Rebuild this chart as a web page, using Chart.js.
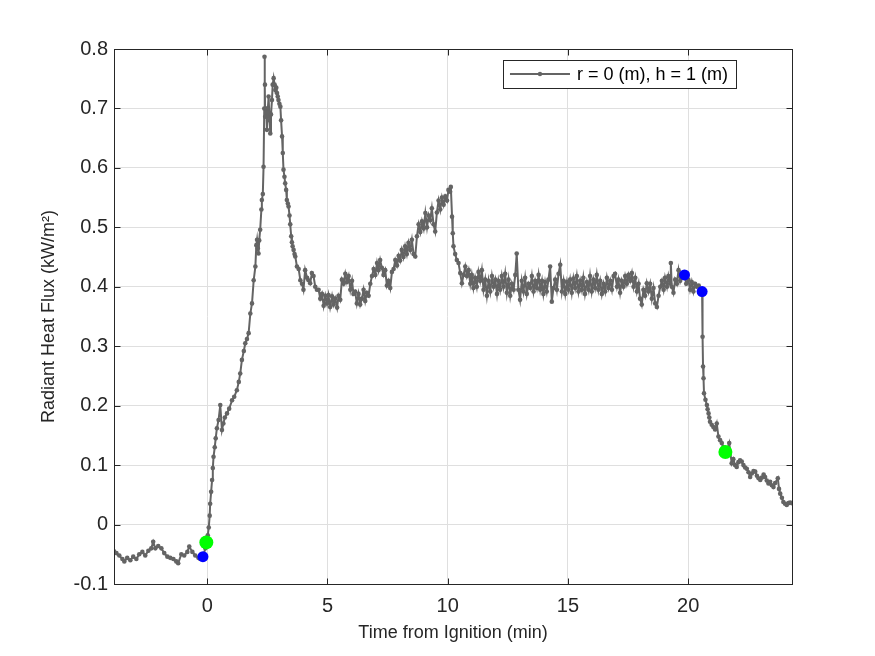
<!DOCTYPE html>
<html><head><meta charset="utf-8">
<script src="https://cdn.jsdelivr.net/npm/chart.js@4.4.1/dist/chart.umd.min.js"></script>
<style>html,body{margin:0;padding:0;background:#fff;} #wrap{width:875px;height:656px;position:relative;}</style>
</head><body><div id="wrap"><canvas id="c" width="875" height="656"></canvas></div>
<script>
// ---- data (time from ignition in min, radiant heat flux in kW/m^2) ----
const times = [
-3.88,-3.78,-3.66,-3.53,-3.45,-3.33,-3.20,-3.08,-2.95,-2.83,
-2.70,-2.58,-2.45,-2.33,-2.25,-2.16,-2.04,-1.91,-1.79,-1.66,
-1.54,-1.41,-1.29,-1.21,-1.08,-0.96,-0.83,-0.75,-0.62,-0.50,
-0.37,-0.29,-0.18,-0.08,-0.04,0.02,0.06,0.10,0.12,0.16,
0.20,0.23,0.26,0.31,0.35,0.40,0.47,0.54,0.61,0.67,
0.73,0.82,0.91,1.03,1.12,1.23,1.31,1.37,1.44,1.52,
1.58,1.65,1.72,1.79,1.86,1.93,2.00,2.04,2.07,2.10,
2.13,2.16,2.20,2.25,2.27,2.31,2.34,2.37,2.38,2.40,
2.41,2.45,2.48,2.52,2.55,2.59,2.62,2.65,2.69,2.72,
2.76,2.80,2.83,2.87,2.90,2.93,2.96,3.00,3.04,3.07,
3.11,3.14,3.17,3.21,3.24,3.28,3.31,3.35,3.38,3.42,
3.45,3.49,3.52,3.55,3.59,3.63,3.66,3.73,3.80,3.87,
3.94,4.00,4.07,4.15,4.21,4.28,4.35,4.42,4.49,4.56,
4.63,4.70,4.77,4.84,4.91,4.98,5.04,5.11,5.19,5.25,
5.32,5.40,5.46,5.53,5.60,5.67,5.74,5.81,5.88,5.95,
6.02,6.08,6.15,6.22,6.29,6.36,6.43,6.50,6.57,6.64,
6.71,6.78,6.85,6.92,6.99,7.06,7.12,7.19,7.26,7.33,
7.40,7.47,7.54,7.61,7.68,7.75,7.82,7.89,7.96,8.02,
8.09,8.16,8.23,8.30,8.37,8.44,8.51,8.58,8.65,8.72,
8.79,8.86,8.93,9.00,9.07,9.14,9.21,9.27,9.34,9.41,
9.48,9.55,9.62,9.69,9.76,9.83,9.90,9.97,10.03,10.10,
10.13,10.18,10.21,10.24,10.31,10.38,10.45,10.52,10.59,10.66,
10.73,10.80,10.87,10.94,11.00,11.07,11.14,11.21,11.28,11.35,
11.42,11.49,11.56,11.63,11.70,11.77,11.84,11.91,11.98,12.05,
12.11,12.18,12.25,12.32,12.39,12.46,12.53,12.60,12.67,12.74,
12.81,12.87,12.94,13.01,13.08,13.15,13.22,13.29,13.36,13.43,
13.50,13.57,13.64,13.71,13.78,13.85,13.92,13.98,14.05,14.12,
14.19,14.26,14.33,14.40,14.47,14.54,14.61,14.68,14.75,14.82,
14.89,14.96,15.02,15.09,15.16,15.23,15.30,15.37,15.44,15.51,
15.58,15.64,15.71,15.79,15.86,15.92,15.99,16.06,16.13,16.20,
16.27,16.34,16.41,16.48,16.55,16.62,16.69,16.76,16.83,16.90,
16.96,17.04,17.10,17.17,17.24,17.31,17.38,17.45,17.52,17.59,
17.66,17.73,17.80,17.87,17.94,18.00,18.07,18.14,18.21,18.28,
18.35,18.42,18.49,18.56,18.63,18.70,18.77,18.84,18.91,18.98,
19.04,19.12,19.18,19.25,19.28,19.32,19.39,19.46,19.53,19.60,
19.67,19.75,19.85,19.92,20.01,20.08,20.15,20.22,20.29,20.36,
20.44,20.50,20.58,20.60,20.62,20.64,20.66,20.72,20.78,20.81,
20.85,20.88,20.91,20.98,21.05,21.12,21.19,21.26,21.33,21.40,
21.47,21.55,21.62,21.71,21.81,21.88,21.95,22.02,22.09,22.16,
22.23,22.30,22.37,22.44,22.51,22.58,22.65,22.72,22.79,22.86,
22.93,23.00,23.07,23.14,23.20,23.27,23.34,23.41,23.48,23.55,
23.62,23.73,23.78,23.83,23.90,23.96,24.03,24.10,24.17,24.24,24.32
];
const flux = [
-0.045,-0.048,-0.052,-0.058,-0.062,-0.056,-0.060,-0.054,-0.058,-0.050,
-0.046,-0.052,-0.044,-0.040,-0.029,-0.040,-0.036,-0.040,-0.048,-0.054,
-0.056,-0.058,-0.062,-0.065,-0.050,-0.052,-0.046,-0.037,-0.046,-0.052,
-0.056,-0.058,-0.054,-0.040,-0.030,-0.018,-0.005,0.015,0.035,0.055,
0.075,0.095,0.114,0.130,0.145,0.162,0.176,0.201,0.159,0.170,
0.180,0.187,0.195,0.209,0.215,0.226,0.240,0.254,0.277,0.292,
0.305,0.312,0.322,0.355,0.372,0.411,0.434,0.470,0.479,0.465,
0.456,0.478,0.496,0.530,0.546,0.556,0.602,0.700,0.787,0.740,
0.686,0.700,0.664,0.700,0.720,0.680,0.658,0.690,0.714,0.740,
0.751,0.740,0.731,0.735,0.726,0.720,0.714,0.708,0.703,0.680,
0.653,0.625,0.597,0.585,0.574,0.563,0.546,0.540,0.535,0.520,
0.505,0.485,0.475,0.468,0.462,0.455,0.451,0.434,0.430,0.411,
0.405,0.395,0.428,0.415,0.411,0.406,0.423,0.418,0.400,0.395,
0.395,0.380,0.388,0.368,0.385,0.372,0.386,0.366,0.384,0.370,
0.380,0.365,0.385,0.378,0.412,0.405,0.422,0.408,0.418,0.395,
0.410,0.388,0.392,0.372,0.388,0.370,0.380,0.395,0.376,0.390,
0.385,0.405,0.418,0.430,0.420,0.440,0.428,0.445,0.432,0.420,
0.428,0.402,0.410,0.398,0.425,0.430,0.445,0.436,0.452,0.444,
0.462,0.450,0.468,0.455,0.474,0.462,0.479,0.455,0.451,0.485,
0.505,0.492,0.510,0.498,0.524,0.500,0.520,0.512,0.532,0.505,
0.493,0.525,0.545,0.530,0.550,0.538,0.552,0.545,0.563,0.560,
0.568,0.518,0.490,0.468,0.455,0.445,0.440,0.423,0.406,0.420,
0.434,0.418,0.428,0.405,0.420,0.398,0.415,0.400,0.425,0.410,
0.428,0.395,0.412,0.385,0.410,0.392,0.418,0.400,0.412,0.388,
0.410,0.395,0.418,0.400,0.422,0.390,0.412,0.385,0.405,0.395,
0.420,0.456,0.395,0.378,0.410,0.392,0.415,0.388,0.405,0.398,
0.418,0.392,0.410,0.398,0.420,0.395,0.410,0.388,0.408,0.392,
0.412,0.434,0.375,0.398,0.412,0.395,0.422,0.437,0.392,0.410,
0.388,0.408,0.395,0.412,0.390,0.414,0.398,0.418,0.392,0.410,
0.395,0.415,0.388,0.408,0.395,0.418,0.392,0.412,0.398,0.420,
0.395,0.410,0.388,0.405,0.392,0.415,0.398,0.410,0.395,0.418,
0.422,0.400,0.412,0.390,0.410,0.400,0.418,0.405,0.420,0.410,
0.423,0.400,0.415,0.392,0.405,0.380,0.370,0.395,0.385,0.406,
0.392,0.405,0.380,0.398,0.372,0.366,0.385,0.400,0.410,0.395,
0.415,0.400,0.418,0.405,0.440,0.400,0.390,0.412,0.405,0.428,
0.410,0.422,0.420,0.405,0.412,0.395,0.408,0.392,0.405,0.400,
0.402,0.396,0.392,0.316,0.266,0.246,0.221,0.210,0.201,0.194,
0.187,0.180,0.173,0.168,0.164,0.160,0.170,0.148,0.142,0.137,
0.130,0.122,0.125,0.137,0.103,0.110,0.100,0.097,0.105,0.108,
0.106,0.100,0.096,0.094,0.088,0.080,0.086,0.090,0.089,0.082,
0.078,0.075,0.079,0.084,0.080,0.074,0.069,0.072,0.066,0.063,
0.070,0.078,0.060,0.052,0.045,0.038,0.035,0.033,0.036,0.037,0.036
];
const blueTimes = [-0.18, 19.85, 20.58];
const blueFlux  = [-0.054, 0.420, 0.392];
const greenTimes = [-0.04, 21.55];
const greenFlux  = [-0.030, 0.122];
const xTicks = [0, 5, 10, 15, 20];
const yTicks = [-0.1, 0, 0.1, 0.2, 0.3, 0.4, 0.5, 0.6, 0.7, 0.8];
const xRange = [-3.88, 24.32];
const yRange = [-0.1, 0.8];
const seriesLabel = 'r = 0 (m), h = 1 (m)';
const xTitle = 'Time from Ignition (min)';
const yTitle = 'Radiant Heat Flux (kW/m\u00B2)';

// ---- styling ----
const FONT = "'Liberation Sans', Arial, Helvetica, sans-serif";
const AX = '#262626';
const LINE = '#646464';
const GRID = '#dfdfdf';

const toXY = (xs, ys) => xs.map((t, i) => ({x: t, y: ys[i]}));

const boxPlugin = {
  id: 'matlabBox',
  afterDatasetsDraw(chart) {
    const {ctx, chartArea: a, scales: {x, y}} = chart;
    ctx.save();
    ctx.strokeStyle = AX; ctx.lineWidth = 1;
    ctx.strokeRect(a.left + 0.5, a.top + 0.5, a.right - a.left, a.bottom - a.top);
    const L = 6;
    ctx.beginPath();
    xTicks.forEach(v => {
      const px = Math.round(x.getPixelForValue(v)) + 0.5;
      ctx.moveTo(px, a.bottom + 0.5); ctx.lineTo(px, a.bottom + 0.5 - L);
      ctx.moveTo(px, a.top + 0.5); ctx.lineTo(px, a.top + 0.5 + L);
    });
    yTicks.forEach(v => {
      const py = Math.round(y.getPixelForValue(v)) + 0.5;
      ctx.moveTo(a.left + 0.5, py); ctx.lineTo(a.left + 0.5 + L, py);
      ctx.moveTo(a.right + 0.5, py); ctx.lineTo(a.right + 0.5 - L, py);
    });
    ctx.stroke();
    ctx.restore();
  },
  afterDraw(chart) {
    const {ctx, chartArea: a} = chart;
    ctx.save();
    ctx.font = '18px ' + FONT;
    const tw = ctx.measureText(seriesLabel).width;
    const right = a.right - 56, top = a.top + 11, h = 28;
    const w = tw + 82;
    const left = right - w;
    ctx.fillStyle = '#fff';
    ctx.fillRect(left, top, w, h);
    ctx.strokeStyle = AX; ctx.lineWidth = 1;
    ctx.strokeRect(Math.round(left) + 0.5, top + 0.5, Math.round(w), h);
    const cy = top + 14;
    ctx.strokeStyle = LINE; ctx.lineWidth = 2;
    ctx.beginPath(); ctx.moveTo(left + 7, cy); ctx.lineTo(left + 67, cy); ctx.stroke();
    ctx.fillStyle = LINE;
    ctx.beginPath(); ctx.arc(left + 37, cy, 2.2, 0, Math.PI * 2); ctx.fill();
    ctx.fillStyle = '#000';
    ctx.textBaseline = 'middle';
    ctx.textAlign = 'left';
    ctx.fillText(seriesLabel, left + 74, cy + 1);
    ctx.restore();
  }
};

new Chart(document.getElementById('c'), {
  type: 'line',
  data: {
    datasets: [
      { label: 'blue', data: toXY(blueTimes, blueFlux), showLine: false,
        pointRadius: 5.5, pointBackgroundColor: '#0000ff', pointBorderWidth: 0, order: 0 },
      { label: 'green', data: toXY(greenTimes, greenFlux), showLine: false,
        pointRadius: 7, pointBackgroundColor: '#00ff00', pointBorderWidth: 0, order: 0 },
      { label: seriesLabel, data: toXY(times, flux), borderColor: LINE, borderWidth: 2,
        pointRadius: 2.3, pointBackgroundColor: LINE, pointBorderWidth: 0, tension: 0, order: 1 }
    ]
  },
  options: {
    responsive: false,
    animation: false,
    devicePixelRatio: 1,
    layout: { padding: { left: 0, top: 49, right: 83, bottom: 0 } },
    plugins: { legend: { display: false }, tooltip: { enabled: false } },
    scales: {
      x: {
        type: 'linear', min: xRange[0], max: xRange[1],
        afterBuildTicks: s => { s.ticks = xTicks.map(v => ({value: v})); },
        afterFit: s => { s.height = 72; },
        grid: { color: GRID, drawTicks: false },
        border: { display: false },
        ticks: { color: AX, font: { family: FONT, size: 20 }, padding: 10,
                 callback: v => String(v), maxRotation: 0 },
        title: { display: true, text: xTitle, color: AX,
                 font: { family: FONT, size: 18 }, padding: { top: 0, bottom: 12 } }
      },
      y: {
        type: 'linear', min: yRange[0], max: yRange[1],
        afterBuildTicks: s => { s.ticks = yTicks.map(v => ({value: v})); },
        afterFit: s => { s.width = 114; },
        grid: { color: GRID, drawTicks: false },
        border: { display: false },
        ticks: { color: AX, font: { family: FONT, size: 20 }, padding: 6,
                 callback: v => (Math.abs(v) < 1e-9 ? '0' : (Math.round(v * 10) / 10).toString()) },
        title: { display: true, text: yTitle, color: AX,
                 font: { family: FONT, size: 18 }, padding: { top: 38, bottom: 0 } }
      }
    }
  },
  plugins: [boxPlugin]
});
</script>
</body></html>
